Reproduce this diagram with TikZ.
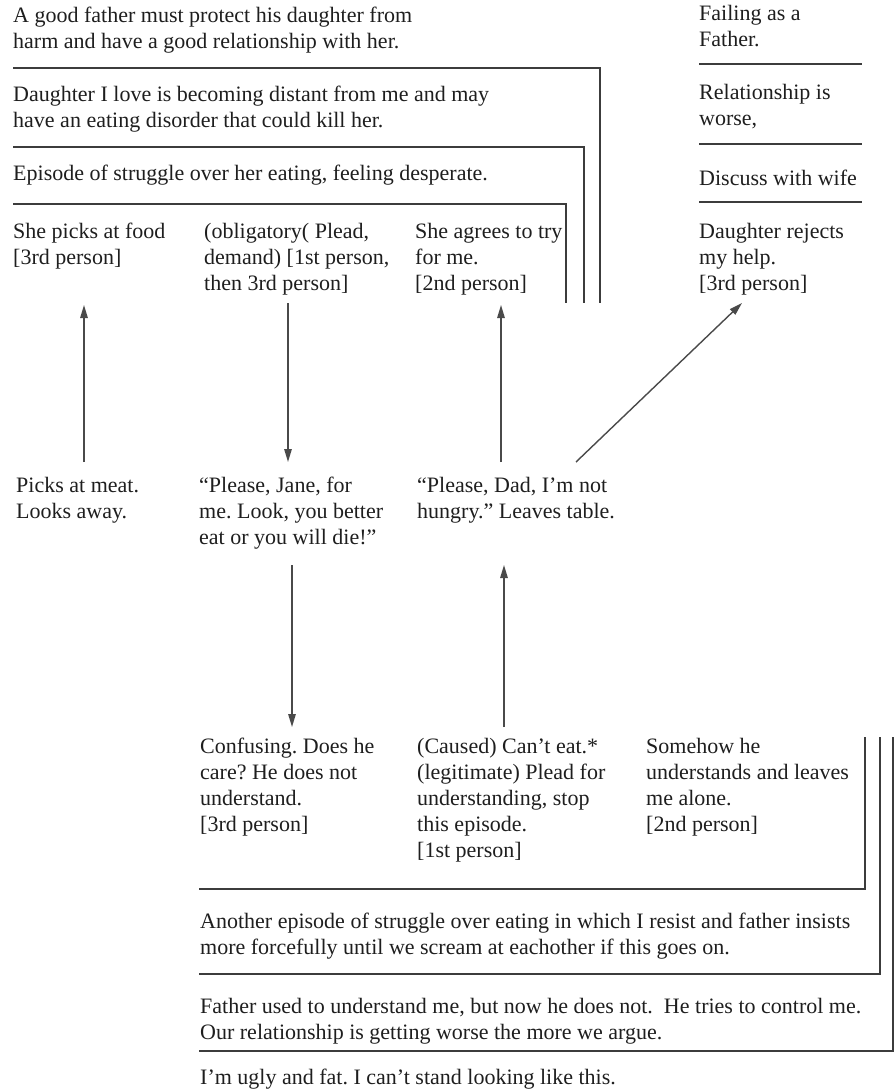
\documentclass[tikz,border=0pt]{standalone}
\usepackage{fontspec}
\setmainfont{Liberation Serif}
\usetikzlibrary{arrows.meta}
\definecolor{ink}{HTML}{1E1E1E}
\definecolor{rulecol}{HTML}{3C3C3C}
\definecolor{arrcol}{HTML}{4A4A4A}
\frenchspacing
\begin{document}
\begin{tikzpicture}[x=1pt,y=-1pt,
  txt/.style={anchor=base west, inner sep=0pt, align=left, text=ink,
              font=\fontsize{22}{26}\selectfont\frenchspacing},
  rulel/.style={draw=rulecol, line width=1.7pt, line join=miter},
  arrow/.style={draw=arrcol, line width=1.4pt, -{Triangle[length=13pt,width=7.5pt]}}]
\useasboundingbox (0,0) rectangle (894,1089);

% (node positions are the baseline of the LAST line of each text)
% ---- top stacked statements (father) ----
\node[txt] (t1) at (13,49) {A good father must protect his daughter from\\harm and have a good relationship with her.};
\node[txt] (t2) at (13,128) {Daughter I love is becoming distant from me and may\\have an eating disorder that could kill her.};
\node[txt] (t3) at (13,180) {Episode of struggle over her eating, feeling desperate.};

\draw[rulel] (13,68) -- (600,68) -- (600,303);
\draw[rulel] (13,147) -- (584,147) -- (584,303);
\draw[rulel] (13,204) -- (566,204) -- (566,303);

% ---- right column ----
\node[txt] (r1) at (699,47) {Failing as a\\Father.};
\node[txt] (r2) at (699,126) {Relationship is\\worse,};
\node[txt] (r3) at (699,185) {Discuss with wife};
\node[txt] (r4) at (699,290) {Daughter rejects\\my help.\\{[}3rd person{]}};
\draw[rulel] (699,64) -- (862,64);
\draw[rulel] (699,144) -- (862,144);
\draw[rulel] (699,202) -- (862,202);

% ---- top row of meanings ----
\node[txt] (c1) at (13,264) {She picks at food\\{[}3rd person{]}};
\node[txt] (c2) at (204,290) {(obligatory( Plead,\\demand) [1st person,\\then 3rd person]};
\node[txt] (c3) at (415,290) {She agrees to try\\for me.\\{[}2nd person{]}};

% ---- middle row of actions ----
\node[txt] (m1) at (16,518) {Picks at meat.\\Looks away.};
\node[txt] (m2) at (199,544) {“Please, Jane, for\\me. Look, you better\\eat or you will die!”};
\node[txt] (m3) at (417,518) {“Please, Dad, I’m not\\hungry.” Leaves table.};

% ---- bottom row of meanings (daughter) ----
\node[txt] (b1) at (200,831) {Confusing. Does he\\care? He does not\\understand.\\{[}3rd person{]}};
\node[txt] (b2) at (417,857) {(Caused) Can’t eat.*\\(legitimate) Plead for\\understanding, stop\\this episode.\\{[}1st person{]}};
\node[txt] (b3) at (646,831) {Somehow he\\understands and leaves\\me alone.\\{[}2nd person{]}};

% ---- bottom stacked statements (daughter) ----
\node[txt] (d1) at (200,954) {Another episode of struggle over eating in which I resist and father insists\\more forcefully until we scream at eachother if this goes on.};
\node[txt] (d2) at (200,1039) {Father used to understand me, but now he does not.\ \ He tries to control me.\\Our relationship is getting worse the more we argue.};
\node[txt] (d3) at (200,1084) {I’m ugly and fat. I can’t stand looking like this.};

\draw[rulel] (865,737) -- (865,889) -- (199,889);
\draw[rulel] (880,737) -- (880,974) -- (199,974);
\draw[rulel] (893,737) -- (893,1051) -- (199,1051);

% ---- arrow end points ----
\coordinate (a1s) at (84,462);  \coordinate (a1e) at (84,305);
\coordinate (a2s) at (288,303); \coordinate (a2e) at (288,462);
\coordinate (a3s) at (501,462); \coordinate (a3e) at (501,305);
\coordinate (a4s) at (576,462); \coordinate (a4e) at (742,303);
\coordinate (a5s) at (292,565); \coordinate (a5e) at (292,727);
\coordinate (a6s) at (504,727); \coordinate (a6e) at (504,565);

\draw[arrow] (a1s) -- (a1e);
\draw[arrow] (a2s) -- (a2e);
\draw[arrow] (a3s) -- (a3e);
\draw[arrow] (a4s) -- (a4e);
\draw[arrow] (a5s) -- (a5e);
\draw[arrow] (a6s) -- (a6e);
\end{tikzpicture}
\end{document}
